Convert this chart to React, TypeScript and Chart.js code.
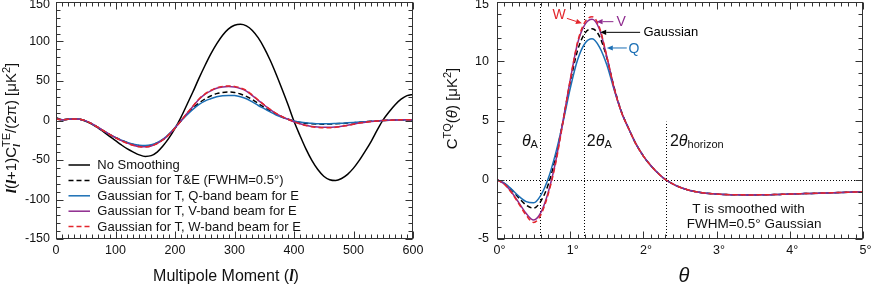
import React, { useEffect, useRef } from 'react';
import { Chart, registerables } from 'chart.js';
Chart.register(...registerables);

const SANS = '"Liberation Sans", Arial, Helvetica, sans-serif';
const SERIF = '"Liberation Serif", "Times New Roman", serif';

// ---------------- Left panel data (TE power spectrum) ----------------
const ell = [
  0, 10, 20, 30, 40, 50, 60, 70, 80, 90, 100, 110, 120, 130, 140, 150, 160, 170, 180, 190, 200,
  210, 220, 230, 240, 250, 260, 270, 280, 290, 300, 310, 320, 330, 340, 350, 360, 370, 380, 390, 400,
  410, 420, 430, 440, 450, 460, 470, 480, 490, 500, 510, 520, 530, 540, 550, 560, 570, 580, 590, 600,
];
const noSmoothing = [
  4, 1, 1.5, 2, 1.5, -1, -4.5, -9, -14.5, -20, -25.5, -31, -36, -40, -43.5, -45.5, -44.5, -40, -32, -22, -10,
  4, 20, 36, 53, 69, 84, 97, 108, 116, 120.5, 121.8, 119.8, 114, 104.5, 91.7, 76.3, 58.6, 39.6, 19.9, -1,
  -19, -36, -50.5, -62, -70.5, -75, -76, -73.4, -68.2, -60.3, -50.2, -38.5, -26, -12, 1, 11, 20, 27, 31.5, 33,
];
const gaussTE = [
  2, 1, 1.5, 2, 1.5, -0.5, -4, -8.5, -13, -17.5, -21.5, -25, -28, -30.5, -32, -32.5, -31.5, -28.5, -24, -17.5, -9.5,
  -0.5, 8, 15.5, 22, 27, 31, 34, 35.5, 36, 35.5, 33.5, 30.5, 26.5, 21.5, 16.5, 12, 8, 4.5, 1.5, -0.7,
  -2.5, -3.5, -4.2, -4.5, -4.7, -4.5, -4.2, -3.8, -3.3, -2.8, -2.2, -1.6, -1, -0.5, 0, 0.3, 0.5, 0.5, 0.5, 0.5,
];
const qBand = [
  2, 1, 1.5, 2, 1.5, -0.5, -4, -8.5, -13, -17.5, -21.5, -25, -27.8, -30, -31.3, -31.7, -30.8, -28, -23.5, -17, -9,
  -0.5, 7, 14, 20, 24.5, 27.5, 30, 31.3, 31.8, 31.5, 30, 27.5, 23.5, 19, 15, 11, 7, 4, 1.5, -0.5,
  -2, -3, -3.5, -4, -4, -4, -3.8, -3.5, -3, -2.5, -2, -1.5, -1, -0.5, 0, 0.3, 0.5, 0.5, 0.5, 0.5,
];
const vBand = [
  2, 1, 1.5, 2, 1.5, -0.5, -4, -8.5, -13, -17.5, -21.7, -25.5, -28.7, -31.3, -33, -33.3, -32.2, -29, -24.3, -17.7, -9.5,
  -0.5, 8.8, 17.8, 26.5, 33, 37.5, 40.8, 42.5, 43, 42.5, 40.5, 37.3, 31.5, 25.5, 19.5, 13.8, 8.8, 4.8, 1.5, -1.5,
  -4, -6, -7.5, -8.3, -8.7, -8.7, -8.2, -7.3, -6, -4.6, -3.2, -2.1, -1.2, -0.5, 0, 0.4, 0.7, 0.8, 0.9, 1,
];
const wBand = [
  2, 1, 1.5, 2, 1.5, -0.5, -4, -8.5, -13, -17.5, -21.8, -25.7, -28.9, -31.5, -33.3, -33.6, -32.4, -29.2, -24.4, -17.8, -9.5,
  -0.5, 9, 18, 27, 33.5, 38, 41.5, 43.2, 43.7, 43.2, 41.2, 38, 32, 25.8, 19.7, 14, 9, 5, 1.6, -1.5,
  -4.2, -6.3, -7.8, -8.7, -9.1, -9.1, -8.6, -7.6, -6.2, -4.8, -3.3, -2.2, -1.3, -0.6, 0, 0.4, 0.7, 0.8, 0.9, 1,
];
const leftLabels = [
  'No Smoothing',
  'Gaussian for T&E (FWHM=0.5°)',
  'Gaussian for T, Q-band beam for E',
  'Gaussian for T, V-band beam for E',
  'Gaussian for T, W-band beam for E',
];
const leftXTicks = [0, 100, 200, 300, 400, 500, 600];
const leftYTicks = [-150, -100, -50, 0, 50, 100, 150];

// ---------------- Right panel data (TQ correlation function) ----------------
const theta = [
  0, 0.1, 0.2, 0.3, 0.4, 0.5, 0.6, 0.7, 0.8, 0.9, 1.0, 1.1, 1.2, 1.3, 1.4, 1.5, 1.6, 1.7, 1.8, 1.9, 2.0,
  2.1, 2.2, 2.3, 2.4, 2.5, 2.6, 2.7, 2.8, 2.9, 3.0, 3.1, 3.2, 3.3, 3.4, 3.5, 3.6, 3.7, 3.8, 3.9, 4.0,
  4.1, 4.2, 4.3, 4.4, 4.5, 4.6, 4.7, 4.8, 4.9, 5.0,
];
const tail = [
  4.3, 3.0, 2.0, 1.2, 0.55, 0.02, -0.35, -0.63, -0.84, -0.99, -1.09, -1.16, -1.21, -1.24, -1.26, -1.27, -1.28,
  -1.28, -1.27, -1.26, -1.25, -1.23, -1.21, -1.19, -1.17, -1.15, -1.13, -1.11, -1.09, -1.07, -1.05, -1.03, -1.01,
];
const ctqGauss = [0, -0.3, -0.85, -1.55, -2.15, -2.4, -1.8, -0.4, 1.9, 4.9, 8.2, 10.9, 12.35, 12.75, 12.1, 10.3, 7.8, 5.75, ...tail];
const ctqQ = [0, -0.28, -0.8, -1.4, -1.85, -1.95, -1.3, 0.1, 2.2, 4.8, 7.7, 10.1, 11.5, 11.9, 11.2, 9.7, 7.6, 5.7, ...tail];
const ctqV = [0, -0.35, -1.05, -1.95, -2.85, -3.4, -2.75, -1.05, 1.5, 4.9, 8.4, 11.5, 13.1, 13.55, 12.7, 10.4, 7.7, 5.7, ...tail];
const ctqW = [0, -0.38, -1.1, -2.05, -3.0, -3.6, -2.95, -1.2, 1.35, 4.8, 8.4, 11.6, 13.3, 13.75, 12.85, 10.4, 7.75, 5.7, ...tail];
const rightXTicks = [0, 1, 2, 3, 4, 5];
const rightYTicks = [-5, 0, 5, 10, 15];
const markerLines = [
  { theta: 0.59, top: 15 },
  { theta: 1.195, top: 15 },
  { theta: 2.305, top: 4.9 },
];
const arrowNotes = [
  { text: 'W', color: '#e3262c', textAt: [0.85, 13.9], align: 'center', from: [0.955, 13.62], to: [1.16, 13.2] },
  { text: 'V', color: '#8e2a8e', textAt: [1.695, 13.34], align: 'center', from: [1.59, 13.34], to: [1.36, 13.34] },
  { text: 'Gaussian', color: '#000000', textAt: [2.0, 12.44], align: 'left', from: [1.955, 12.44], to: [1.41, 12.44] },
  { text: 'Q', color: '#1b6fb5', textAt: [1.872, 11.09], align: 'center', from: [1.773, 11.12], to: [1.5, 11.12] },
];
const noteLines = [
  { text: 'T is smoothed with', at: [2.667, -2.47] },
  { text: 'FWHM=0.5° Gaussian', at: [2.591, -3.73] },
];

const BLUE = '#1b6fb5';
const PURPLE = '#8e2a8e';
const RED = '#e3262c';
const INK = '#000000';

type Seg = { t: string; size?: number; italic?: boolean; bold?: boolean; serif?: boolean; dy?: number; hold?: boolean };

function segFont(s: Seg, base: number) {
  return `${s.italic ? 'italic ' : ''}${s.bold ? 'bold ' : ''}${s.size || base}px ${s.serif ? SERIF : SANS}`;
}
function richWidth(ctx: CanvasRenderingContext2D, segs: Seg[], base: number) {
  let w = 0;
  let hold = 0;
  for (const s of segs) {
    ctx.font = segFont(s, base);
    const sw = ctx.measureText(s.t).width;
    if (s.hold) { hold = sw; continue; }
    w += Math.max(sw, hold);
    hold = 0;
  }
  return w + hold;
}
function drawRich(ctx: CanvasRenderingContext2D, segs: Seg[], x: number, y: number, base: number, align: 'left' | 'center', color: string) {
  ctx.save();
  ctx.fillStyle = color;
  ctx.textAlign = 'left';
  ctx.textBaseline = 'alphabetic';
  let cx = align === 'center' ? x - richWidth(ctx, segs, base) / 2 : x;
  let hold = 0;
  for (const s of segs) {
    ctx.font = segFont(s, base);
    const sw = ctx.measureText(s.t).width;
    ctx.fillText(s.t, cx, y + (s.dy || 0));
    if (s.hold) { hold = sw; continue; }
    cx += Math.max(sw, hold);
    hold = 0;
  }
  ctx.restore();
}

type AxisSpec = { min: number; max: number; minor: number; major: number; labels: number[]; fmt: (v: number) => string; deg?: boolean };

function drawFrame(chart: any, xs: AxisSpec, ys: AxisSpec, labelGapY: number) {
  const ctx: CanvasRenderingContext2D = chart.ctx;
  const { left, right, top, bottom } = chart.chartArea;
  const sx = chart.scales.x;
  const sy = chart.scales.y;
  const H = chart.height;
  ctx.save();
  ctx.setLineDash([]);
  ctx.strokeStyle = '#333333';
  ctx.lineWidth = 1;
  const L = Math.round(left) + 0.5, R = Math.round(right) - 0.5, T = Math.round(top) + 0.5, B = Math.round(bottom) - 0.5;
  ctx.strokeRect(L, T, R - L, B - T);
  ctx.beginPath();
  const nx = Math.round((xs.max - xs.min) / xs.minor);
  for (let i = 0; i <= nx; i++) {
    const v = xs.min + i * xs.minor;
    const q = v / xs.major;
    const len = Math.abs(q - Math.round(q)) < 1e-6 ? 7 : 4;
    const px = Math.round(sx.getPixelForValue(v)) + 0.5;
    ctx.moveTo(px, B); ctx.lineTo(px, B - len);
    ctx.moveTo(px, T); ctx.lineTo(px, T + len);
  }
  const ny = Math.round((ys.max - ys.min) / ys.minor);
  for (let i = 0; i <= ny; i++) {
    const v = ys.min + i * ys.minor;
    const q = v / ys.major;
    const len = Math.abs(q - Math.round(q)) < 1e-6 ? 7 : 4;
    const py = Math.round(sy.getPixelForValue(v)) + 0.5;
    ctx.moveTo(L, py); ctx.lineTo(L + len, py);
    ctx.moveTo(R, py); ctx.lineTo(R - len, py);
  }
  ctx.stroke();

  ctx.fillStyle = '#111111';
  ctx.font = `12.5px ${SANS}`;
  ctx.textBaseline = 'middle';
  for (const v of xs.labels) {
    const px = sx.getPixelForValue(v);
    const num = xs.fmt(v);
    if (xs.deg) {
      const w = ctx.measureText(num).width;
      ctx.textAlign = 'left';
      ctx.fillText(num + '°', px - w / 2, bottom + 12);
    } else {
      ctx.textAlign = 'center';
      ctx.fillText(num, px, bottom + 12);
    }
  }
  ctx.textAlign = 'right';
  for (const v of ys.labels) {
    let py = sy.getPixelForValue(v);
    py = Math.max(5, Math.min(H - 5, py));
    ctx.fillText(ys.fmt(v), left - labelGapY, py);
  }
  ctx.restore();
}

function pts(xs: number[], ys: number[]) {
  return xs.map((x, i) => ({ x, y: ys[i] }));
}

function leftConfig(): any {
  const styles = [
    { data: noSmoothing, color: INK, dash: [] as number[], order: 4 },
    { data: gaussTE, color: INK, dash: [5, 3], order: 3 },
    { data: qBand, color: BLUE, dash: [], order: 2 },
    { data: vBand, color: PURPLE, dash: [], order: 1 },
    { data: wBand, color: RED, dash: [5, 3], order: 0 },
  ];
  const xs: AxisSpec = { min: 0, max: 600, minor: 10, major: 100, labels: leftXTicks, fmt: (v) => String(v) };
  const ys: AxisSpec = { min: -150, max: 150, minor: 10, major: 50, labels: leftYTicks, fmt: (v) => String(v) };
  const plugin = {
    id: 'leftDecor',
    afterDatasetsDraw(chart: any) {
      const ctx: CanvasRenderingContext2D = chart.ctx;
      drawFrame(chart, xs, ys, 6);
      const { left } = chart.chartArea;
      // legend
      ctx.save();
      chart.data.datasets.forEach((ds: any, i: number) => {
        const y = 165 + i * 15.4;
        ctx.strokeStyle = ds.borderColor;
        ctx.lineWidth = 1.5;
        ctx.setLineDash(ds.borderDash || []);
        ctx.beginPath();
        ctx.moveTo(left + 12.5, y);
        ctx.lineTo(left + 34, y);
        ctx.stroke();
        ctx.setLineDash([]);
        ctx.fillStyle = '#111111';
        ctx.font = `13px ${SANS}`;
        ctx.textAlign = 'left';
        ctx.textBaseline = 'middle';
        ctx.fillText(ds.label, left + 41.3, y + 0.5);
      });
      ctx.restore();
      // x title
      drawRich(ctx, [{ t: 'Multipole Moment (' }, { t: 'l', italic: true, bold: true, serif: true }, { t: ')' }], 226, 281, 16, 'center', '#111111');
      // y title (rotated)
      ctx.save();
      ctx.translate(16, 128);
      ctx.rotate(-Math.PI / 2);
      drawRich(ctx, [
        { t: 'l', italic: true, bold: true, serif: true },
        { t: '(' },
        { t: 'l', italic: true, bold: true, serif: true },
        { t: '+1)C' },
        { t: 'l', italic: true, bold: true, serif: true, size: 11, dy: 4, hold: true },
        { t: 'TE', size: 11, dy: -6.5 },
        { t: '/(2π) [μK' },
        { t: '2', size: 11, dy: -6.5 },
        { t: ']' },
      ], 0, 0, 15, 'center', '#111111');
      ctx.restore();
    },
  };
  return {
    type: 'line',
    data: {
      datasets: styles.map((s, i) => ({
        label: leftLabels[i],
        data: pts(ell, s.data),
        borderColor: s.color,
        borderDash: s.dash,
        borderWidth: 1.5,
        order: s.order,
        pointRadius: 0,
        fill: false,
        cubicInterpolationMode: 'monotone',
      })),
    },
    options: {
      responsive: false,
      animation: false,
      events: [],
      layout: { padding: { left: 56, right: 27, top: 2, bottom: 46 } },
      plugins: { legend: { display: false }, tooltip: { enabled: false }, title: { display: false } },
      scales: {
        x: { type: 'linear', min: 0, max: 600, display: false },
        y: { type: 'linear', min: -150, max: 150, display: false },
      },
    },
    plugins: [plugin],
  };
}

function drawArrow(ctx: CanvasRenderingContext2D, x1: number, y1: number, x2: number, y2: number, color: string) {
  const a = Math.atan2(y2 - y1, x2 - x1);
  const hl = 6, hw = 2.6;
  const bx = x2 - hl * Math.cos(a), by = y2 - hl * Math.sin(a);
  ctx.save();
  ctx.strokeStyle = color;
  ctx.fillStyle = color;
  ctx.lineWidth = 1;
  ctx.setLineDash([]);
  ctx.beginPath(); ctx.moveTo(x1, y1); ctx.lineTo(bx, by); ctx.stroke();
  ctx.beginPath();
  ctx.moveTo(x2, y2);
  ctx.lineTo(bx + hw * Math.sin(a), by - hw * Math.cos(a));
  ctx.lineTo(bx - hw * Math.sin(a), by + hw * Math.cos(a));
  ctx.closePath();
  ctx.fill();
  ctx.restore();
}

function rightConfig(): any {
  const styles = [
    { label: 'Gaussian', data: ctqGauss, color: INK, dash: [5, 3], order: 3 },
    { label: 'Q', data: ctqQ, color: BLUE, dash: [] as number[], order: 2 },
    { label: 'V', data: ctqV, color: PURPLE, dash: [], order: 1 },
    { label: 'W', data: ctqW, color: RED, dash: [5, 3], order: 0 },
  ];
  const xs: AxisSpec = { min: 0, max: 5, minor: 0.1, major: 1, labels: rightXTicks, fmt: (v) => String(v), deg: true };
  const ys: AxisSpec = { min: -5, max: 15, minor: 1, major: 5, labels: rightYTicks, fmt: (v) => String(v) };
  const plugin = {
    id: 'rightDecor',
    beforeDatasetsDraw(chart: any) {
      const ctx: CanvasRenderingContext2D = chart.ctx;
      const sx = chart.scales.x, sy = chart.scales.y;
      const { left, right, bottom } = chart.chartArea;
      ctx.save();
      ctx.strokeStyle = '#000';
      ctx.lineWidth = 1;
      ctx.setLineDash([1, 2]);
      ctx.beginPath();
      const y0 = Math.round(sy.getPixelForValue(0)) + 0.5;
      ctx.moveTo(left, y0); ctx.lineTo(right, y0);
      for (const m of markerLines) {
        const px = Math.round(sx.getPixelForValue(m.theta)) + 0.5;
        ctx.moveTo(px, bottom);
        ctx.lineTo(px, sy.getPixelForValue(m.top));
      }
      ctx.stroke();
      ctx.restore();
    },
    afterDatasetsDraw(chart: any) {
      const ctx: CanvasRenderingContext2D = chart.ctx;
      const sx = chart.scales.x, sy = chart.scales.y;
      drawFrame(chart, xs, ys, 8);
      // marker labels
      const by = sy.getPixelForValue(2.81);
      drawRich(ctx, [{ t: 'θ', italic: true }, { t: 'A', size: 11, dy: 2 }], sx.getPixelForValue(0.34), by, 16, 'left', '#111111');
      drawRich(ctx, [{ t: '2' }, { t: 'θ', italic: true }, { t: 'A', size: 11, dy: 2 }], sx.getPixelForValue(1.227), by, 16, 'left', '#111111');
      drawRich(ctx, [{ t: '2' }, { t: 'θ', italic: true }, { t: 'horizon', size: 11, dy: 2 }], sx.getPixelForValue(2.363), by, 16, 'left', '#111111');
      // arrows
      for (const n of arrowNotes) {
        drawArrow(ctx, sx.getPixelForValue(n.from[0]), sy.getPixelForValue(n.from[1]), sx.getPixelForValue(n.to[0]), sy.getPixelForValue(n.to[1]), n.color);
        ctx.save();
        ctx.fillStyle = n.color;
        ctx.font = `${n.text.length > 1 ? 13 : 14}px ${SANS}`;
        ctx.textAlign = n.align as CanvasTextAlign;
        ctx.textBaseline = 'middle';
        ctx.fillText(n.text, sx.getPixelForValue(n.textAt[0]), sy.getPixelForValue(n.textAt[1]) + 0.5);
        ctx.restore();
      }
      // note
      ctx.save();
      ctx.fillStyle = '#111111';
      ctx.font = `13.5px ${SANS}`;
      ctx.textAlign = 'left';
      ctx.textBaseline = 'middle';
      for (const n of noteLines) ctx.fillText(n.text, sx.getPixelForValue(n.at[0]), sy.getPixelForValue(n.at[1]));
      ctx.restore();
      // x title
      drawRich(ctx, [{ t: 'θ', italic: true, size: 20 }], 244, 281.5, 20, 'center', '#111111');
      // y title
      ctx.save();
      ctx.translate(17, 108.5);
      ctx.rotate(-Math.PI / 2);
      drawRich(ctx, [
        { t: 'C' },
        { t: 'TQ', size: 11, dy: -6.5 },
        { t: '(' },
        { t: 'θ', italic: true },
        { t: ') [μK' },
        { t: '2', size: 11, dy: -6.5 },
        { t: ']' },
      ], 0, 0, 15, 'center', '#111111');
      ctx.restore();
    },
  };
  return {
    type: 'line',
    data: {
      datasets: styles.map((s) => ({
        label: s.label,
        data: pts(theta, s.data),
        borderColor: s.color,
        borderDash: s.dash,
        borderWidth: 1.5,
        order: s.order,
        pointRadius: 0,
        fill: false,
        cubicInterpolationMode: 'monotone',
      })),
    },
    options: {
      responsive: false,
      animation: false,
      events: [],
      layout: { padding: { left: 57, right: 8, top: 2, bottom: 46 } },
      plugins: { legend: { display: false }, tooltip: { enabled: false }, title: { display: false } },
      scales: {
        x: { type: 'linear', min: 0, max: 5, display: false },
        y: { type: 'linear', min: -5, max: 15, display: false },
      },
    },
    plugins: [plugin],
  };
}

export default function App() {
  const leftRef = useRef<HTMLCanvasElement>(null);
  const rightRef = useRef<HTMLCanvasElement>(null);
  useEffect(() => {
    const c1 = new Chart(leftRef.current as HTMLCanvasElement, leftConfig());
    const c2 = new Chart(rightRef.current as HTMLCanvasElement, rightConfig());
    return () => {
      c1.destroy();
      c2.destroy();
    };
  }, []);
  return (
    <div style={{ position: 'absolute', left: 0, top: 0, width: 871, height: 285, background: '#ffffff', overflow: 'hidden' }}>
      <canvas ref={leftRef} width={440} height={285} style={{ position: 'absolute', left: 0, top: 0 }} />
      <canvas ref={rightRef} width={431} height={285} style={{ position: 'absolute', left: 440, top: 0 }} />
    </div>
  );
}
